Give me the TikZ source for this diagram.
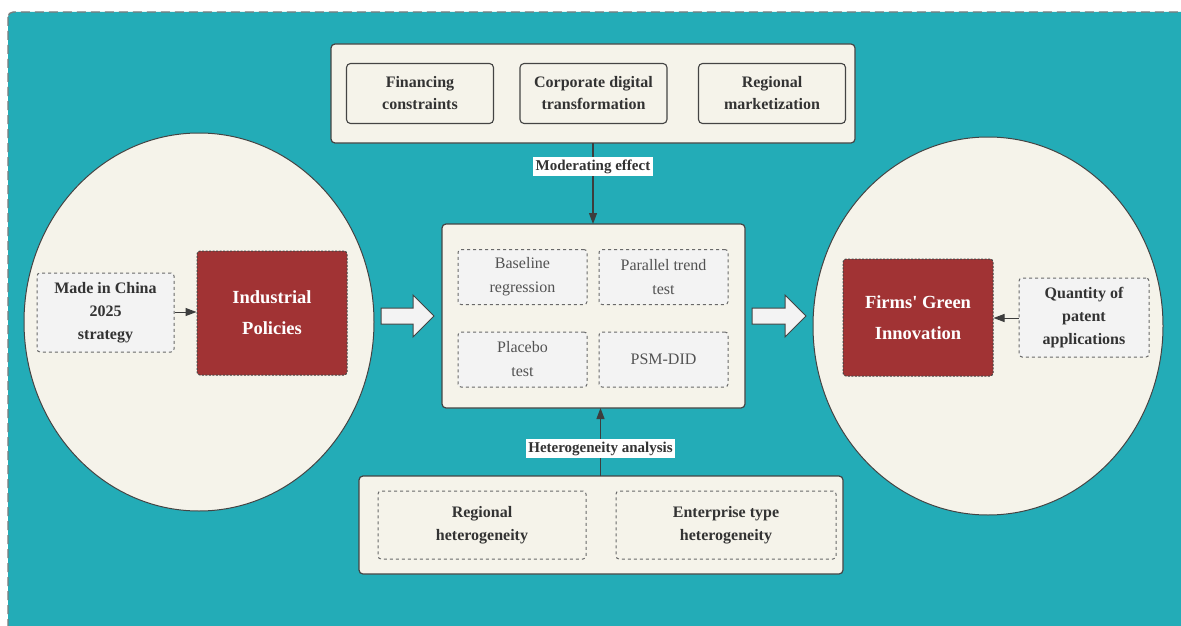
\documentclass[tikz,border=0pt]{standalone}
\usepackage{fontspec}
\setmainfont{Liberation Serif}
\usetikzlibrary{arrows.meta,shapes.geometric,shapes.arrows}
\definecolor{teal1}{HTML}{23ACB7}
\definecolor{cream}{HTML}{F5F3EA}
\definecolor{redbox}{HTML}{A13334}
\definecolor{lgray}{HTML}{F3F3F3}
\definecolor{txt}{HTML}{333333}
\definecolor{bord}{HTML}{444444}
\tikzset{
  panel/.style={draw=bord, line width=1.2pt, fill=cream, rounded corners=4pt},
  solidbox/.style={draw=bord, line width=1.1pt, fill=cream, rounded corners=4pt,
    font=\fontsize{16}{22}\selectfont\bfseries, text=txt, align=center},
  dashbox/.style={draw=bord!80, line width=1pt, dash pattern=on 3pt off 3pt, fill=lgray, rounded corners=3pt,
    font=\fontsize{16}{23}\selectfont\bfseries, text=txt, align=center},
  testbox/.style={draw=bord!80, line width=1pt, dash pattern=on 3pt off 3pt, fill=lgray, rounded corners=3pt,
    font=\fontsize{16}{24}\selectfont, text=txt!85, align=center},
  heterobox/.style={draw=bord!80, line width=1pt, dash pattern=on 3pt off 3pt, fill=cream, rounded corners=3pt,
    font=\fontsize{16}{23}\selectfont\bfseries, text=txt, align=center},
  redbox/.style={draw=bord, line width=1pt, dash pattern=on 2pt off 1.5pt, fill=redbox, rounded corners=3pt,
    font=\fontsize{18.5}{31}\selectfont\bfseries, text=white, align=center},
  lab/.style={fill=white, inner sep=2.5pt, font=\fontsize{15}{17}\selectfont\bfseries, text=txt},
  conn/.style={draw=bord!90!black, line width=1.2pt, -{Triangle[length=11pt,width=8pt]}},
  smallconn/.style={draw=bord!90!black, line width=1pt, -{Triangle[length=11pt,width=8pt]}},
  bigarrow/.style={draw=bord, line width=1pt, fill=lgray, line join=miter},
  circ/.style={draw=bord, line width=1pt, fill=cream}
}
\begin{document}
\begin{tikzpicture}[x=1pt,y=-1pt]
\useasboundingbox (0,0) rectangle (1181,626);
% background
\fill[white] (0,0) rectangle (1181,626);
\draw[fill=teal1, draw=bord!70, line width=1.3pt, dash pattern=on 9pt off 5pt, rounded corners=5pt]
  (8,12) rectangle (1200,650);
% circles
\node[circ, ellipse, minimum width=350pt, minimum height=378pt, inner sep=0pt] (lc) at (199,322) {};
\node[circ, ellipse, minimum width=350pt, minimum height=378pt, inner sep=0pt] (rc) at (988,326) {};
% top panel
\draw[panel] (331,44) rectangle (855,143);
\node[solidbox, minimum width=147pt, minimum height=60pt] (fin) at (420,93.5) {Financing\\constraints};
\node[solidbox, minimum width=147pt, minimum height=60pt] (cdt) at (593.5,93.5) {Corporate digital\\transformation};
\node[solidbox, minimum width=147pt, minimum height=60pt] (rm) at (772,93.5) {Regional\\marketization};
\coordinate (topb) at (593,143);
% center panel
\node[panel, minimum width=303pt, minimum height=184pt, inner sep=0pt] (cen) at (593.5,316) {};
\node[testbox, minimum width=129pt, minimum height=55pt, inner sep=0pt] (base) at (522.5,277) {Baseline\\regression};
\node[testbox, minimum width=129pt, minimum height=55pt, inner sep=0pt] (par) at (663.5,277) {Parallel trend\\test};
\node[testbox, minimum width=129pt, minimum height=55pt, inner sep=0pt] (pla) at (522.5,359.5) {Placebo\\test};
\node[testbox, minimum width=129pt, minimum height=55pt, inner sep=0pt] (psm) at (663.5,359.5) {PSM-DID};
% moderating arrow
\draw[conn] (topb) -- (593,224);
\node[lab] (mod) at (593,166.5) {Moderating effect};
% bottom panel
\draw[panel] (359,476) rectangle (843,574);
\coordinate (botb) at (600.5,476);
\node[heterobox, minimum width=208pt, minimum height=68pt, inner sep=0pt] (reg) at (482,525) {Regional\\heterogeneity};
\node[heterobox, minimum width=220pt, minimum height=68pt, inner sep=0pt] (ent) at (726,525) {Enterprise type\\heterogeneity};
\draw[conn] (botb) -- (600.5,408);
\node[lab] (het) at (600.5,448.5) {Heterogeneity analysis};
% left circle contents
\node[dashbox, minimum width=137pt, minimum height=79pt, inner sep=0pt] (mic) at (105.5,312.5) {Made in China\\2025\\strategy};
\node[redbox, minimum width=150pt, minimum height=124pt, inner sep=0pt] (ip) at (272,313) {Industrial\\Policies};
\draw[smallconn] (mic.east |- 0,312) -- (ip.west |- 0,312);
% right circle contents
\node[redbox, minimum width=150pt, minimum height=117pt, inner sep=0pt] (fgi) at (918,317.5) {Firms\textquotesingle{} Green\\Innovation};
\node[dashbox, minimum width=130pt, minimum height=79pt, inner sep=0pt] (qpa) at (1084,317.5) {Quantity of\\patent\\applications};
\draw[smallconn] (qpa.west |- 0,318) -- (fgi.east |- 0,318);
% big hollow arrows
\draw[bigarrow] (381,308) -- (413,308) -- (413,295) -- (434,316) -- (413,337) -- (413,324) -- (381,324) -- cycle;
\draw[bigarrow] (752,308) -- (785,308) -- (785,295) -- (806,316) -- (785,337) -- (785,324) -- (752,324) -- cycle;
\end{tikzpicture}
\end{document}
